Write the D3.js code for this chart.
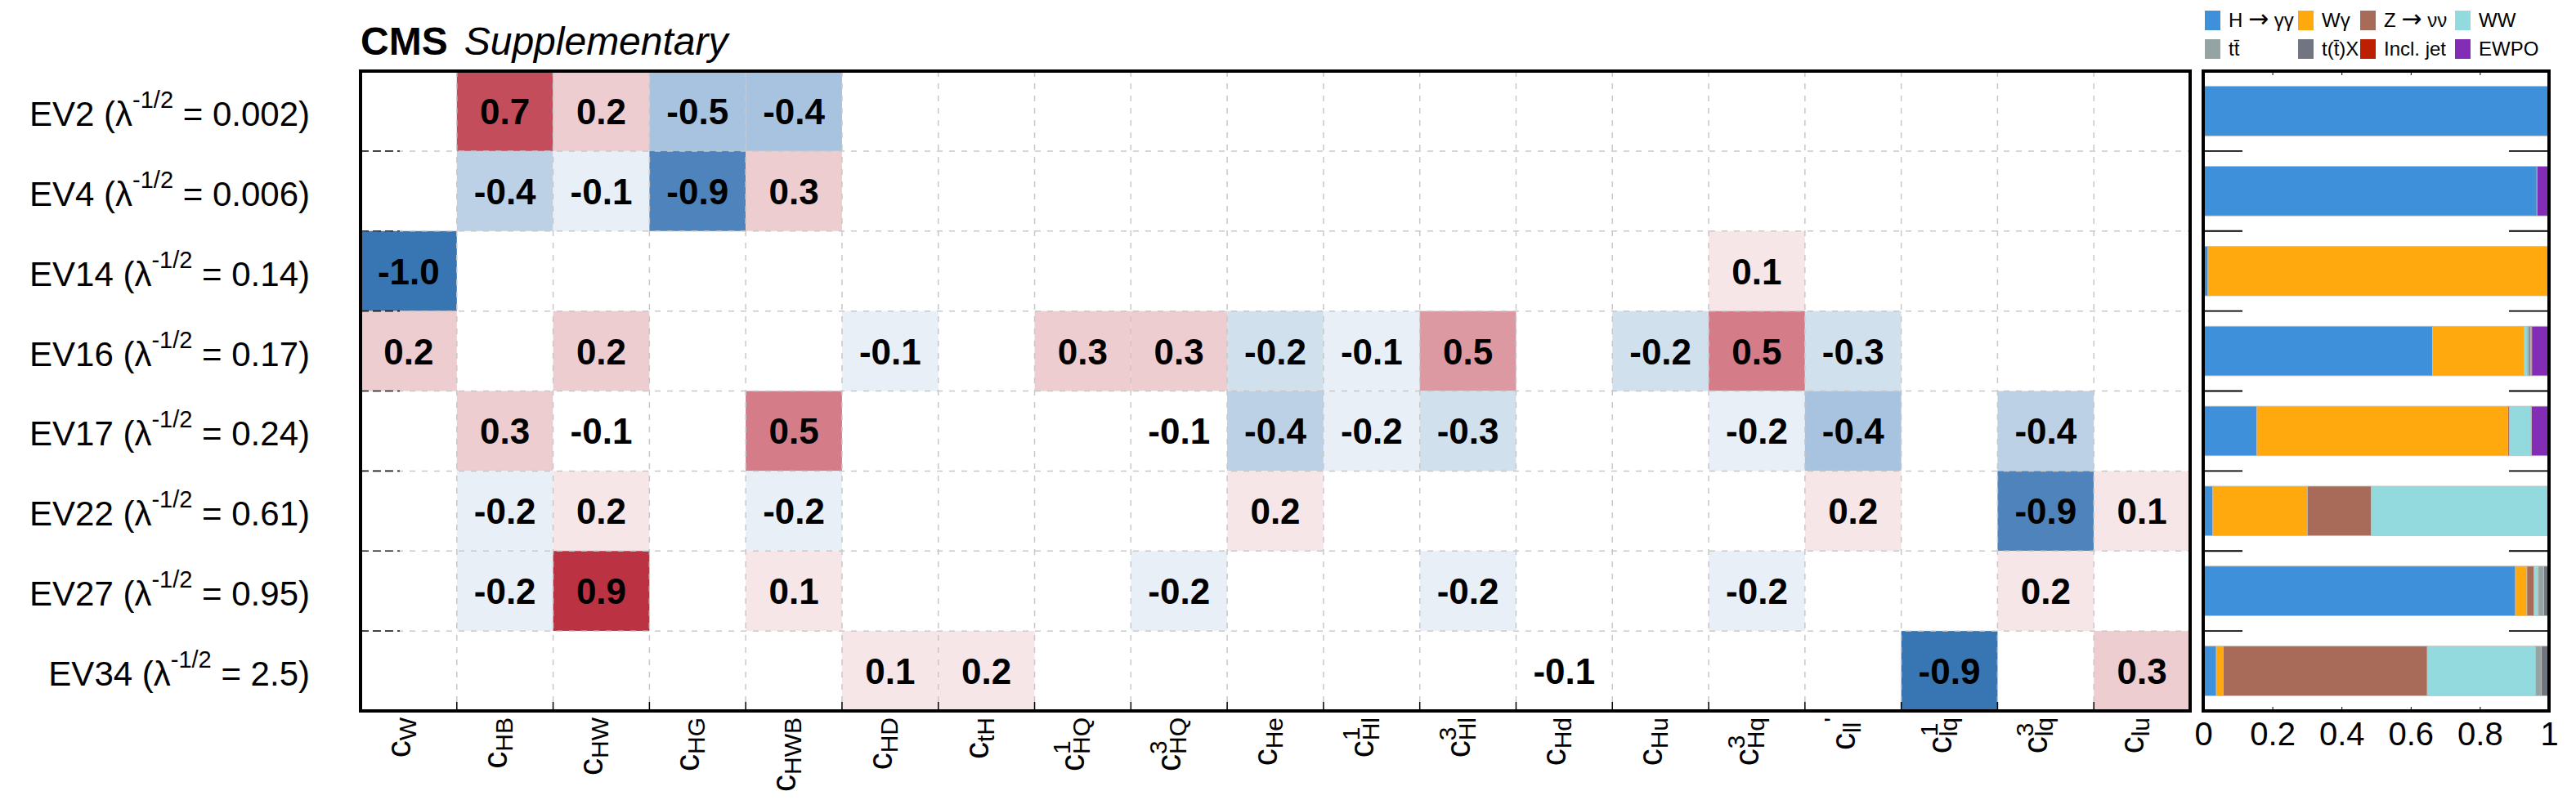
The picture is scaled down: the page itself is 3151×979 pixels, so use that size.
<!DOCTYPE html>
<html>
<head>
<meta charset="utf-8">
<script src="https://cdn.jsdelivr.net/npm/d3@7.9.0/dist/d3.min.js"></script>
<style>
  body { margin: 0; background: #fff; }
  svg { display: block; font-family: "Liberation Sans", Arial, Helvetica, sans-serif; }
</style>
</head>
<body>
<svg id="chart" width="3151" height="979"></svg>
<script>
// eigenvectors (rows) and their lambda^-1/2
const eigenNames = ['EV2', 'EV4', 'EV14', 'EV16', 'EV17', 'EV22', 'EV27', 'EV34'];
const eigenLambdas = ['0.002', '0.006', '0.14', '0.17', '0.24', '0.61', '0.95', '2.5'];

// Wilson coefficients (columns): c_{sub}^{sup}
const wcSubs = ['W', 'HB', 'HW', 'HG', 'HWB', 'HD', 'tH', 'HQ', 'HQ', 'He', 'Hl', 'Hl', 'Hd', 'Hu', 'Hq', 'll', 'lq', 'lq', 'lu'];
const wcSups = ['', '', '', '', '', '', '', '1', '3', '', '1', '3', '', '', '3', "'", '1', '3', ''];

// eigenvector components, 0 = not shown
const coefficients = [
  [0, 0.72, 0.22, -0.46, -0.44, 0, 0, 0, 0, 0, 0, 0, 0, 0, 0, 0, 0, 0, 0],
  [0, -0.37, -0.12, -0.88, 0.27, 0, 0, 0, 0, 0, 0, 0, 0, 0, 0, 0, 0, 0, 0],
  [-0.98, 0, 0, 0, 0, 0, 0, 0, 0, 0, 0, 0, 0, 0, 0.12, 0, 0, 0, 0],
  [0.21, 0, 0.21, 0, 0, -0.12, 0, 0.27, 0.26, -0.22, -0.12, 0.47, 0, -0.22, 0.52, -0.27, 0, 0, 0],
  [0, 0.28, -0.08, 0, 0.53, 0, 0, 0, -0.07, -0.36, -0.16, -0.27, 0, 0, -0.17, -0.42, 0, -0.38, 0],
  [0, -0.17, 0.17, 0, -0.18, 0, 0, 0, 0, 0.16, 0, 0, 0, 0, 0, 0.17, 0, -0.88, 0.13],
  [0, -0.17, 0.92, 0, 0.12, 0, 0, 0, -0.18, 0, 0, -0.16, 0, 0, -0.17, 0, 0, 0.16, 0],
  [0, 0, 0, 0, 0, 0.13, 0.18, 0, 0, 0, 0, 0, -0.07, 0, 0, 0, -0.92, 0, 0.27]
];

// sensitivity split by input channel
const channels = ['H \u2192 \u03b3\u03b3', 'W\u03b3', 'Z \u2192 \u03bd\u03bd', 'WW', 'tt\u0304', 't(t\u0304)X', 'Incl. jet', 'EWPO'];
const channelColors = ['#3f90da', '#ffa90e', '#a96b59', '#92dadd', '#94a4a2', '#717581', '#bd1f01', '#832db6'];
const fractions = [
  [1.0, 0, 0, 0, 0, 0, 0, 0],
  [0.965, 0, 0, 0, 0, 0, 0, 0.035],
  [0.014, 0.986, 0, 0, 0, 0, 0, 0],
  [0.663, 0.265, 0, 0.009, 0.005, 0.005, 0.003, 0.05],
  [0.155, 0.726, 0.005, 0.061, 0.001, 0.001, 0, 0.051],
  [0.028, 0.273, 0.185, 0.514, 0, 0, 0, 0],
  [0.903, 0.033, 0.021, 0.012, 0.016, 0.015, 0, 0],
  [0.038, 0.02, 0.59, 0.313, 0.017, 0.022, 0, 0]
];
const fractionTicks = [0, 0.2, 0.4, 0.6, 0.8, 1];

// 20 palette levels from -1 to 1
const levelColors = [
  '#3875b3', '#4f83bb', '#6793c4', '#7ea3cd', '#93b3d6', '#a8c3e0', '#bcd1e6', '#d1e0ed', '#e8eff7', '#ffffff',
  '#ffffff', '#f6e6e8', '#eecdd1', '#e5b3b9', '#dc99a1', '#d47d88', '#cb6370', '#c44d5c', '#bf3f4f', '#bb3242'
];

const W = 3151, H = 979;
const frame = { x0: 441, x1: 2679, y0: 87, y1: 870 };
const side = { x0: 2695, x1: 3118 };
const fontFamily = '"Liberation Sans", Arial, Helvetica, sans-serif';

const svg = d3.select('#chart');
svg.append('rect').attr('width', W).attr('height', H).attr('fill', '#fff');

const x = d3.scaleBand().domain(d3.range(wcSubs.length)).range([frame.x0, frame.x1]);
const y = d3.scaleBand().domain(eigenNames).range([frame.y0, frame.y1]);
const color = d3.scaleThreshold()
    .domain(d3.range(-9, 10).map((k) => k / 10))
    .range(levelColors);

const cells = coefficients
    .flatMap((row, i) => row.map((v, j) => ({ ev: eigenNames[i], j, v })))
    .filter((d) => Math.abs(d.v) >= 0.05);

// heatmap cells
svg.append('g')
    .selectAll('rect')
    .data(cells)
    .join('rect')
    .attr('x', (d) => x(d.j))
    .attr('y', (d) => y(d.ev))
    .attr('width', x.bandwidth())
    .attr('height', y.bandwidth())
    .attr('fill', (d) => color(d.v));

// dashed grid on top of the cells
const grid = svg.append('g')
    .attr('stroke', '#c8c8c8')
    .attr('stroke-width', 1.5)
    .attr('stroke-dasharray', '7,8');
grid.selectAll('line.v')
    .data(d3.range(1, wcSubs.length))
    .join('line')
    .attr('class', 'v')
    .attr('x1', (j) => x(j)).attr('x2', (j) => x(j))
    .attr('y1', frame.y0).attr('y2', frame.y1);
grid.selectAll('line.h')
    .data(eigenNames.slice(1))
    .join('line')
    .attr('class', 'h')
    .attr('x1', frame.x0).attr('x2', frame.x1)
    .attr('y1', (d) => y(d)).attr('y2', (d) => y(d));

// values
svg.append('g')
    .attr('font-weight', 'bold')
    .attr('font-size', 44)
    .attr('text-anchor', 'middle')
    .selectAll('text')
    .data(cells)
    .join('text')
    .attr('x', (d) => x(d.j) + x.bandwidth() / 2)
    .attr('y', (d) => y(d.ev) + y.bandwidth() / 2 + 16)
    .text((d) => d.v.toFixed(1));

// ticks of the heatmap
const ticks = svg.append('g').attr('stroke', '#000');
ticks.selectAll('line.xt')
    .data(d3.range(1, wcSubs.length))
    .join('line')
    .attr('class', 'xt')
    .attr('stroke-width', 1.5)
    .attr('x1', (j) => x(j)).attr('x2', (j) => x(j))
    .attr('y1', frame.y1).attr('y2', frame.y1 - 11);
ticks.selectAll('line.yt')
    .data(eigenNames.slice(1))
    .join('line')
    .attr('class', 'yt')
    .attr('stroke', '#222')
    .attr('stroke-width', 1.6)
    .attr('stroke-dasharray', '10,5')
    .attr('x1', frame.x0).attr('x2', frame.x0 + 48)
    .attr('y1', (d) => y(d)).attr('y2', (d) => y(d));

svg.append('rect')
    .attr('x', frame.x0).attr('y', frame.y0)
    .attr('width', frame.x1 - frame.x0).attr('height', frame.y1 - frame.y0)
    .attr('fill', 'none').attr('stroke', '#000').attr('stroke-width', 4);

// eigenvector labels
const yLabels = svg.append('g').attr('font-size', 42).attr('text-anchor', 'end');
eigenNames.forEach((name, i) => {
    const t = yLabels.append('text')
        .style('white-space', 'pre')
        .attr('x', 379)
        .attr('y', y(name) + y.bandwidth() / 2 + 18);
    t.append('tspan').text(`${name} (\u03bb`);
    t.append('tspan').attr('font-size', 29).attr('dy', -22).text('-1/2');
    t.append('tspan').attr('dy', 22).text(` = ${eigenLambdas[i]})`);
});

// coefficient labels, rotated
const xLabels = svg.append('g');
wcSubs.forEach((sub, j) => {
    const g = xLabels.append('g');
    const c = g.append('text').attr('font-size', 42).text('c');
    const cw = c.node().getComputedTextLength();
    const s = g.append('text').attr('font-size', 30).attr('x', cw).attr('y', 7).text(sub);
    const sw = s.node().getComputedTextLength();
    let total = cw + sw;
    const sup = wcSups[j];
    if (sup) {
        const sx = sup === "'" ? cw + sw : cw;
        const p = g.append('text').attr('font-size', 30).attr('x', sx).attr('y', -17).text(sup);
        total = Math.max(total, sx + p.node().getComputedTextLength());
    }
    g.attr('transform',
        `translate(${x(j) + x.bandwidth() / 2 + 2},878) rotate(-90) translate(${-total},0)`);
});

// header
const header = svg.append('text').attr('x', frame.x0).attr('y', 67).attr('font-size', 48);
header.append('tspan').attr('font-weight', 'bold').text('CMS');
header.append('tspan').attr('font-style', 'italic').attr('dx', 20).text('Supplementary');

// stacked fractions panel
const xs = d3.scaleLinear().domain([0, 1]).range([side.x0, side.x1]);
const yb = d3.scaleBand().domain(eigenNames).range([frame.y0, frame.y1])
    .paddingInner(0.38).paddingOuter(0.19);

const stackRows = fractions.map((f, i) => {
    const o = { ev: eigenNames[i] };
    channels.forEach((ch, k) => { o[ch] = f[k]; });
    return o;
});
const series = d3.stack().keys(channels)(stackRows);

svg.append('g')
    .selectAll('g')
    .data(series)
    .join('g')
    .attr('fill', (_, k) => channelColors[k])
    .selectAll('rect')
    .data((d) => d.filter((s) => s[1] - s[0] > 0))
    .join('rect')
    .attr('x', (d) => xs(d[0]))
    .attr('width', (d) => xs(d[1]) - xs(d[0]))
    .attr('y', (d) => yb(d.data.ev))
    .attr('height', yb.bandwidth())
    .attr('stroke', '#c4c0b8')
    .attr('stroke-width', 0.8);

const sideTicks = svg.append('g').attr('stroke', '#000').attr('stroke-width', 1.8);
eigenNames.slice(1).forEach((ev) => {
    sideTicks.append('line')
        .attr('x1', xs(0)).attr('x2', xs(0) + 48)
        .attr('y1', y(ev)).attr('y2', y(ev));
    sideTicks.append('line')
        .attr('x1', xs(1) - 49).attr('x2', xs(1))
        .attr('y1', y(ev)).attr('y2', y(ev));
});

const bottomAxis = svg.append('g')
    .attr('transform', `translate(0,${frame.y1})`)
    .call(d3.axisBottom(xs).tickValues(fractionTicks).tickFormat(d3.format('~g'))
        .tickSizeInner(-5).tickSizeOuter(0).tickPadding(14));
bottomAxis.attr('font-size', 40).attr('font-family', fontFamily);
bottomAxis.select('.domain').remove();

const topAxis = svg.append('g')
    .attr('transform', `translate(0,${frame.y0})`)
    .call(d3.axisTop(xs).tickValues(fractionTicks).tickFormat('').tickSizeInner(-5).tickSizeOuter(0));
topAxis.select('.domain').remove();

svg.append('rect')
    .attr('x', side.x0).attr('y', frame.y0)
    .attr('width', side.x1 - side.x0).attr('height', frame.y1 - frame.y0)
    .attr('fill', 'none').attr('stroke', '#000').attr('stroke-width', 4);

// legend, 2 rows of 4
const legendCols = [2697, 2811, 2887, 3003];
const legendRows = [13, 48];
const legend = svg.append('g').attr('font-size', 24);
channels.forEach((ch, k) => {
    const lx = legendCols[k % 4];
    const ly = legendRows[Math.floor(k / 4)];
    legend.append('rect')
        .attr('x', lx).attr('y', ly)
        .attr('width', 19).attr('height', 24)
        .attr('fill', channelColors[k]);
    const t = legend.append('text')
        .style('white-space', 'pre')
        .attr('x', lx + 29).attr('y', ly + 20);
    // draw the arrow a bit larger, like the symbol font does
    ch.split('\u2192').forEach((part, p) => {
        if (p > 0) {
            t.append('tspan').attr('font-size', 30).attr('font-family', 'DejaVu Sans').text('\u2192');
        }
        t.append('tspan').text(part);
    });
});
</script>
</body>
</html>
